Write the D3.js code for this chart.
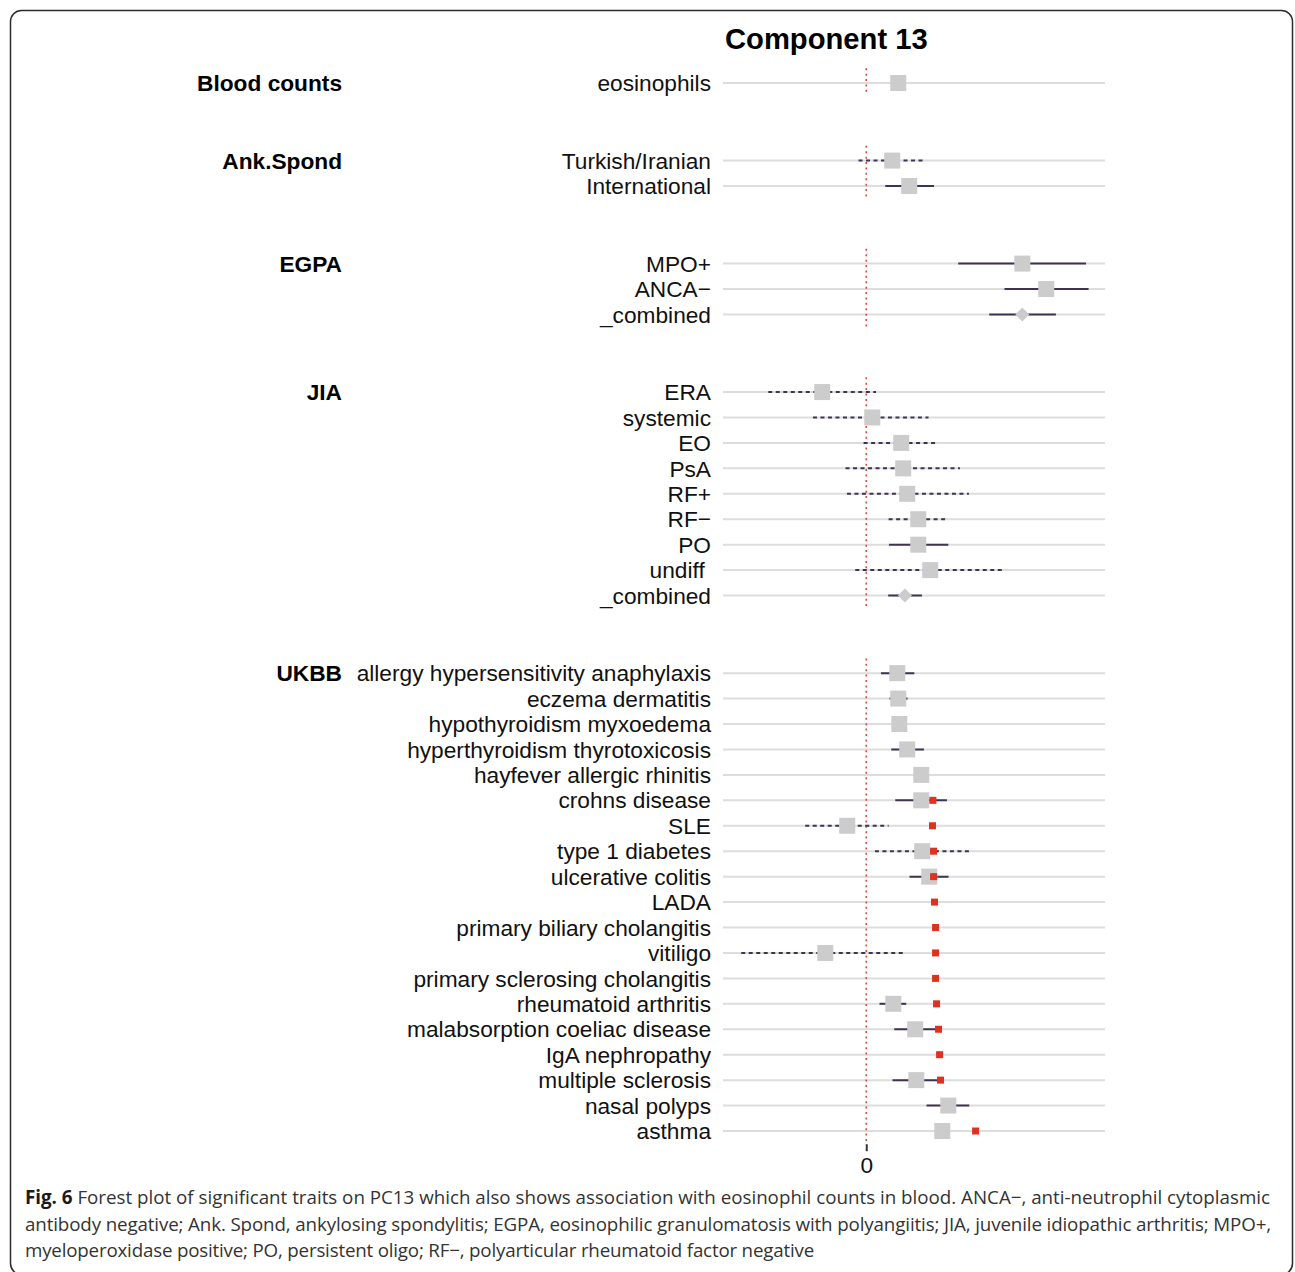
<!DOCTYPE html>
<html>
<head>
<meta charset="utf-8">
<script src="https://cdn.jsdelivr.net/npm/d3@7"></script>
<style>
  html, body { margin: 0; padding: 0; background: #ffffff; }
  svg text { white-space: pre; }
</style>
</head>
<body>
<svg id="chart" width="1295" height="1272"></svg>
<script>
// ---- data -------------------------------------------------------------
const groups = ["Blood counts", "Ank.Spond", "EGPA", "JIA", "UKBB"];

const traits = [
  "eosinophils",
  "Turkish/Iranian", "International",
  "MPO+", "ANCA\u2212", "_combined",
  "ERA", "systemic", "EO", "PsA", "RF+", "RF\u2212", "PO", "undiff ", "_combined",
  "allergy hypersensitivity anaphylaxis", "eczema dermatitis", "hypothyroidism myxoedema",
  "hyperthyroidism thyrotoxicosis", "hayfever allergic rhinitis", "crohns disease", "SLE",
  "type 1 diabetes", "ulcerative colitis", "LADA", "primary biliary cholangitis", "vitiligo",
  "primary sclerosing cholangitis", "rheumatoid arthritis", "malabsorption coeliac disease",
  "IgA nephropathy", "multiple sclerosis", "nasal polyps", "asthma"
];

const traitGroup = [
  "Blood counts",
  "Ank.Spond", "Ank.Spond",
  "EGPA", "EGPA", "EGPA",
  "JIA", "JIA", "JIA", "JIA", "JIA", "JIA", "JIA", "JIA", "JIA",
  "UKBB", "UKBB", "UKBB", "UKBB", "UKBB", "UKBB", "UKBB", "UKBB", "UKBB", "UKBB",
  "UKBB", "UKBB", "UKBB", "UKBB", "UKBB", "UKBB", "UKBB", "UKBB", "UKBB"
];

// projected effect on the component (null = no estimate)
const estimate = [
  0.0335,
  0.0272, 0.0450,
  0.1634, 0.1885, 0.1634,
  -0.0461, 0.0063, 0.0366, 0.0387, 0.0429, 0.0545, 0.0545, 0.0670, 0.0405,
  0.0325, 0.0335, 0.0346, 0.0429, 0.0576, 0.0576, -0.0199, 0.0586, 0.0660, null,
  null, -0.0429, null, 0.0283, 0.0513, null, 0.0524, 0.0859, 0.0796
];
const ciLower = [
  0.0265,
  -0.0081, 0.0199,
  0.0963, 0.1448, 0.1288,
  -0.1026, -0.0558, -0.0028, -0.0217, -0.0202, 0.0234, 0.0238, -0.0115, 0.0230,
  0.0154, 0.0244, 0.0272, 0.0262, 0.0503, 0.0304, -0.0639, 0.0091, 0.0453, null,
  null, -0.1309, null, 0.0139, 0.0293, null, 0.0275, 0.0631, 0.0723
];
const ciUpper = [
  0.0405,
  0.0607, 0.0709,
  0.2301, 0.2328, 0.1986,
  0.0102, 0.0652, 0.0740, 0.0981, 0.1075, 0.0851, 0.0859, 0.1455, 0.0583,
  0.0503, 0.0432, 0.0419, 0.0604, 0.0649, 0.0845, 0.0234, 0.1079, 0.0862, null,
  null, 0.0408, null, 0.0419, 0.0726, null, 0.0778, 0.1079, 0.0869
];
// true = significant (solid interval), false = dashed interval
const significant = [
  true,
  false, true,
  true, true, true,
  false, false, false, false, false, false, true, false, true,
  true, true, true, true, true, true, false, false, true, true,
  true, false, true, true, true, true, true, true, true
];
// UK Biobank effect on eosinophil counts (red markers)
const eosinophilEffect = [
  null,
  null, null,
  null, null, null,
  null, null, null, null, null, null, null, null, null,
  null, null, null, null, null, 0.0698, 0.0694, 0.0705, 0.0705, 0.0715,
  0.0726, 0.0726, 0.0726, 0.0736, 0.0757, 0.0768, 0.0778, null, 0.1145
];

const xTicks = [0];
const xTickLabels = ["0"];

// ---- layout -----------------------------------------------------------
const svg = d3.select("#chart");
const groupGap = 3.05;           // row units between consecutive panels
const labelFont = "'Liberation Sans', Arial, Helvetica, sans-serif";
const labelSize = 22.7;

// row position (in row units) for every trait, panels stacked vertically
const rowPos = [];
{
  let p = 0, prev = null;
  traitGroup.forEach((g, i) => {
    if (i > 0) p += (g === prev) ? 1 : groupGap;
    rowPos.push(p);
    prev = g;
  });
}

const x = d3.scaleLinear().domain([-0.15, 0.25]).range([723, 1105]);
const y = d3.scaleLinear().domain([0, d3.max(rowPos)]).range([83, 1131]);

const rows = traits.map((t, i) => ({
  trait: t, group: traitGroup[i], pos: rowPos[i],
  est: estimate[i], lo: ciLower[i], hi: ciUpper[i],
  sig: significant[i], eos: eosinophilEffect[i],
  combined: t === "_combined"
}));

// outer frame
svg.append("rect")
  .attr("x", 10.5).attr("y", 10.5)
  .attr("width", 1282).attr("height", 1264)
  .attr("rx", 11).attr("ry", 11)
  .attr("fill", "none").attr("stroke", "#2b2b2b").attr("stroke-width", 1.5);

// title
svg.append("text")
  .attr("x", 725).attr("y", 49)
  .attr("font-family", labelFont)
  .attr("font-weight", "bold").attr("font-size", 29.2)
  .attr("fill", "#000").text("Component 13");

const plot = svg.append("g");

// background row lines
plot.selectAll("line.row").data(rows).join("line")
  .attr("class", "row")
  .attr("x1", x.range()[0]).attr("x2", x.range()[1])
  .attr("y1", d => y(d.pos)).attr("y2", d => y(d.pos))
  .attr("stroke", "#dddddd").attr("stroke-width", 2);

// zero reference line in each panel
const panels = groups.map(g => {
  const ps = rows.filter(r => r.group === g).map(r => r.pos);
  return { group: g, first: d3.min(ps), last: d3.max(ps) };
});
plot.selectAll("line.zero").data(panels).join("line")
  .attr("class", "zero")
  .attr("x1", x(0)).attr("x2", x(0))
  .attr("y1", d => y(d.first - 0.58)).attr("y2", d => y(d.last + 0.48))
  .attr("stroke", "#e8463c").attr("stroke-width", 1.6)
  .attr("stroke-dasharray", "2,3.4");

// confidence intervals
const withEst = rows.filter(r => r.est !== null);
plot.selectAll("line.ci").data(withEst).join("line")
  .attr("class", "ci")
  .attr("x1", d => x(d.lo)).attr("x2", d => x(d.hi))
  .attr("y1", d => y(d.pos)).attr("y2", d => y(d.pos))
  .attr("stroke", "#3f3254").attr("stroke-width", 2)
  .attr("stroke-dasharray", d => d.sig ? null : "4,3.5");

// point estimates: squares, diamonds for combined estimates
const sq = 16;
plot.selectAll("rect.est").data(withEst.filter(d => !d.combined)).join("rect")
  .attr("class", "est")
  .attr("x", d => x(d.est) - sq / 2).attr("y", d => y(d.pos) - sq / 2)
  .attr("width", sq).attr("height", sq)
  .attr("fill", "#cccccc");

plot.selectAll("path.diamond").data(withEst.filter(d => d.combined)).join("path")
  .attr("class", "diamond")
  .attr("transform", d => `translate(${x(d.est)},${y(d.pos)})`)
  .attr("d", "M0,-7L7,0L0,7L-7,0Z")
  .attr("fill", "#cccccc");

// eosinophil effect markers
const rs = 7;
plot.selectAll("rect.eos").data(rows.filter(r => r.eos !== null)).join("rect")
  .attr("class", "eos")
  .attr("x", d => x(d.eos) - rs / 2).attr("y", d => y(d.pos) - rs / 2)
  .attr("width", rs).attr("height", rs)
  .attr("fill", "#e0301e");

// trait labels
svg.selectAll("text.trait").data(rows).join("text")
  .attr("class", "trait")
  .attr("x", 711).attr("y", d => y(d.pos)).attr("dy", "0.36em")
  .attr("text-anchor", "end")
  .attr("font-family", labelFont)
  .attr("font-size", labelSize).attr("fill", "#111")
  .text(d => d.trait);

// group labels
svg.selectAll("text.group").data(panels).join("text")
  .attr("class", "group")
  .attr("x", 342).attr("y", d => y(d.first)).attr("dy", "0.36em")
  .attr("text-anchor", "end")
  .attr("font-family", labelFont)
  .attr("font-weight", "bold").attr("font-size", labelSize).attr("fill", "#000")
  .text(d => d.group);

// x axis (only the zero tick)
const axisY = y(d3.max(rowPos) + 0.48) + 1;
const axis = d3.axisBottom(x).tickValues(xTicks)
  .tickFormat((d, i) => xTickLabels[i]).tickSize(7).tickPadding(6);
const ax = svg.append("g").attr("transform", `translate(0,${axisY})`).call(axis);
ax.select(".domain").remove();
ax.selectAll(".tick line").attr("stroke", "#333").attr("stroke-width", 2);
ax.selectAll(".tick text")
  .attr("font-family", labelFont)
  .attr("font-size", labelSize).attr("fill", "#111");

// figure caption
const captionLines = [
  [["Fig. 6", true], [" Forest plot of significant traits on PC13 which also shows association with eosinophil counts in blood. ANCA\u2212, anti-neutrophil cytoplasmic", false]],
  [["antibody negative; Ank. Spond, ankylosing spondylitis; EGPA, eosinophilic granulomatosis with polyangiitis; JIA, juvenile idiopathic arthritis; MPO+,", false]],
  [["myeloperoxidase positive; PO, persistent oligo; RF\u2212, polyarticular rheumatoid factor negative", false]]
];
const capBase = [1204, 1231, 1257];
const capWidth = [1245, 1246, 789];
const cap = svg.append("g")
  .attr("font-family", "'Open Sans', 'Noto Sans', sans-serif")
  .attr("font-size", 16);
const capTexts = captionLines.map((parts, li) => {
  const t = cap.append("text").attr("x", 25).attr("y", capBase[li]);
  parts.forEach(([s, bold]) => {
    t.append("tspan")
      .attr("font-weight", bold ? "bold" : "normal")
      .attr("fill", bold ? "#1a1a1a" : "#333333")
      .text(s);
  });
  return t;
});
// size the caption to the first line, then set each line's tracking to its width
{
  const w0 = capTexts[0].node().getComputedTextLength();
  cap.attr("font-size", (16 * capWidth[0] / w0).toFixed(2));
  capTexts.forEach((t, i) => {
    const w = t.node().getComputedTextLength();
    const n = t.text().length;
    t.attr("letter-spacing", ((capWidth[i] - w) / n).toFixed(3));
  });
}
</script>
</body>
</html>
